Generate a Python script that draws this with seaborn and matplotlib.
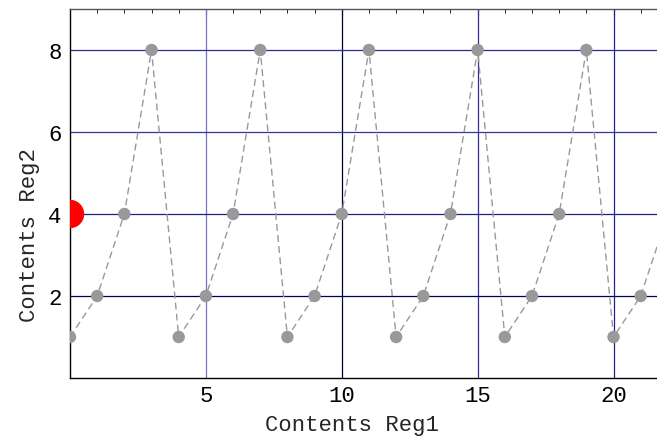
import matplotlib
matplotlib.use("Agg")
import matplotlib.pyplot as plt
import seaborn as sns
import pandas as pd
from matplotlib.ticker import MultipleLocator

reg1 = [0, 1, 2, 3, 4, 5, 6, 7, 8, 9, 10, 11, 12, 13, 14, 15, 16, 17, 18, 19, 20, 21, 22]
reg2 = [1, 2, 4, 8, 1, 2, 4, 8, 1, 2, 4, 8, 1, 2, 4, 8, 1, 2, 4, 8, 1, 2, 4]
current_x = [0]
current_y = [4]
xticks = [5, 10, 15, 20]
yticks = [2, 4, 6, 8]
vgrid = [5, 10, 15, 20]
vgrid_colors = ["#7474c0", "#000040", "#303098", "#202090"]
hgrid = [2, 4, 6, 8]
hgrid_colors = ["#000060", "#202088", "#363696", "#2c2c92"]

sns.set_style("white")
plt.rcParams["font.family"] = ["Liberation Mono", "DejaVu Sans Mono"]

df = pd.DataFrame({"Reg1": reg1, "Reg2": reg2})
cur = pd.DataFrame({"Reg1": current_x, "Reg2": current_y})

fig = plt.figure(figsize=(6.57, 4.39), dpi=100)
ax = fig.add_axes([70 / 657, 1 - 379 / 439, 1 - 70 / 657, (379 - 10) / 439])

for xv, c in zip(vgrid, vgrid_colors):
    ax.axvline(xv, color=c, lw=0.9, zorder=1)
for yv, c in zip(hgrid, hgrid_colors):
    ax.axhline(yv, color=c, lw=0.9, zorder=1)

sns.lineplot(data=df, x="Reg1", y="Reg2", ax=ax, color="#999999", lw=1.0,
             linestyle=(0, (5, 3)), sort=False, estimator=None, zorder=2)
sns.scatterplot(data=df, x="Reg1", y="Reg2", ax=ax, color="#999999", s=80,
                edgecolor="none", zorder=3)
sns.scatterplot(data=cur, x="Reg1", y="Reg2", ax=ax, color="#ff0000", s=420,
                edgecolor="none", zorder=4)

ax.set_xlim(0, 21.6)
ax.set_ylim(0, 9)
ax.set_xticks(xticks)
ax.set_yticks(yticks)
ax.xaxis.set_minor_locator(MultipleLocator(1))
ax.yaxis.set_minor_locator(MultipleLocator(0.5))
ax.tick_params(axis="both", which="both", direction="in", top=True, right=False,
               labelsize=16, colors="black")
ax.tick_params(axis="x", which="major", pad=5)
ax.tick_params(axis="y", which="major", pad=6)
ax.tick_params(axis="both", which="major", length=5, width=0.8)
ax.tick_params(axis="both", which="minor", length=3, width=0.6)
ax.set_xlabel("Contents Reg1", fontsize=16)
ax.set_ylabel("Contents Reg2", fontsize=16)
ax.xaxis.set_label_coords((352 - 70) / 587, -(426 - 379) / 369, transform=ax.transAxes)
ax.yaxis.set_label_coords(-(70 - 30) / 587, (379 - 235) / 369, transform=ax.transAxes)
ax.xaxis.label.set_va("center")
ax.yaxis.label.set_va("center")

for s in ["left", "bottom"]:
    ax.spines[s].set_color("black")
    ax.spines[s].set_linewidth(1.0)
ax.spines["top"].set_color("#555555")
ax.spines["top"].set_linewidth(1.0)
ax.spines["right"].set_visible(False)

fig.savefig("out.png", dpi=100)
